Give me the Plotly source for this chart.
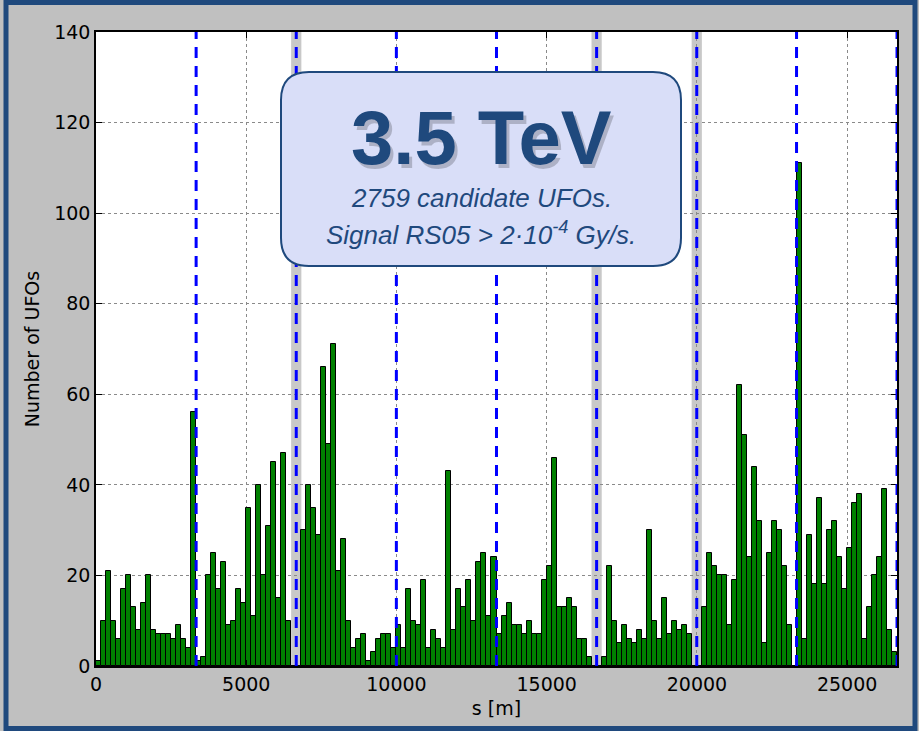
import numpy as np
import plotly.graph_objects as go

# ---------------- data ----------------
CIRCUMFERENCE = 26659.0          # LHC circumference [m]
N_BINS = 160

octant1 = [1, 10, 21, 10, 6, 17, 20, 13, 8, 14, 20, 8, 7, 7, 7, 6, 9, 6, 4, 56]
octant2 = [1, 2, 20, 25, 17, 23, 9, 10, 17, 14, 35, 11, 40, 20, 31, 45, 15, 47, 10, 0]
octant3 = [0, 30, 40, 35, 29, 66, 49, 71, 21, 28, 10, 4, 6, 7, 1, 3, 6, 7, 7, 4]
octant4 = [9, 4, 17, 10, 9, 19, 4, 8, 6, 4, 43, 8, 17, 13, 19, 10, 23, 25, 11, 24]
octant5 = [7, 11, 14, 9, 9, 7, 10, 7, 7, 19, 22, 46, 13, 13, 15, 13, 6, 6, 2, 0]
octant6 = [0, 2, 22, 10, 5, 9, 6, 5, 8, 6, 30, 10, 6, 15, 7, 10, 8, 9, 7, 0]
octant7 = [0, 13, 25, 22, 20, 20, 9, 19, 62, 51, 24, 44, 32, 5, 25, 32, 30, 22, 9, 0]
octant8 = [111, 6, 29, 18, 37, 18, 30, 32, 24, 17, 26, 36, 38, 6, 13, 20, 24, 39, 8, 3]
counts = octant1 + octant2 + octant3 + octant4 + octant5 + octant6 + octant7 + octant8

ip_positions = [3332.4, 6664.7, 9997.1, 13329.3, 16661.7, 19994.2, 23315.4, 26659.0]
excluded_ips = [6664.7, 16661.7, 19994.2]
band_halfwidth = 170.0

x_ticks = [0, 5000, 10000, 15000, 20000, 25000]
y_ticks = [0, 20, 40, 60, 80, 100, 120, 140]

title_text = "3.5 TeV"
sub_line1 = "2759 candidate UFOs."
sub_line2 = "Signal RS05 > 2·10<sup>-4</sup> Gy/s."

# ---------------- layout geometry (pixels) ----------------
W, H = 919, 731
PL, PR, PT, PB = 96, 897, 32, 666
pw, ph = PR - PL, PB - PT


def px(x):
    return (x - PL) / pw


def py(y):
    return (PB - y) / ph


edges = np.linspace(0, CIRCUMFERENCE, N_BINS + 1)
centers = 0.5 * (edges[:-1] + edges[1:])
bin_w = edges[1] - edges[0]

NAVY = "#1F497D"
fig = go.Figure()
fig.add_trace(go.Bar(
    x=centers, y=counts, width=bin_w,
    marker=dict(color="#008000", line=dict(color="black", width=1)),
    hoverinfo="x+y", showlegend=False,
))

shapes = []
# grey bands
for ip in excluded_ips:
    shapes.append(dict(type="rect", xref="x", yref="paper", x0=ip - band_halfwidth,
                       x1=ip + band_halfwidth, y0=0, y1=1, fillcolor="#c8c8c8",
                       line=dict(width=0), layer="below"))
# IP lines
for ip in ip_positions:
    shapes.append(dict(type="line", xref="x", yref="paper", x0=ip, x1=ip, y0=0, y1=1,
                       line=dict(color="#0000ff", width=3, dash="11px,8px"), layer="above"))

# rounded annotation box
L, R, T, B, r = px(281), px(681), py(72), py(266), 28
rx, ry = r / pw, r / ph
path = (f"M {L+rx},{T} L {R-rx},{T} Q {R},{T} {R},{T-ry} L {R},{B+ry} "
        f"Q {R},{B} {R-rx},{B} L {L+rx},{B} Q {L},{B} {L},{B+ry} L {L},{T-ry} "
        f"Q {L},{T} {L+rx},{T} Z")
shapes.append(dict(type="path", xref="paper", yref="paper", path=path,
                   fillcolor="#D9DEF8", line=dict(color=NAVY, width=2), layer="above"))

# outer slide border
shapes.append(dict(type="rect", xref="paper", yref="paper", x0=px(6), x1=px(915),
                   y0=py(728.5), y1=py(2.5), line=dict(color=NAVY, width=5),
                   fillcolor="rgba(0,0,0,0)", layer="above"))

annotations = [
    dict(text=title_text, x=px(481 + 3), y=py(138 + 3), xref="paper", yref="paper",
         showarrow=False, xanchor="center", yanchor="middle",
         font=dict(family="Liberation Sans", size=76, color="rgba(0,0,0,0.2)", weight="bold")),
    dict(text=title_text, x=px(481), y=py(138), xref="paper", yref="paper",
         showarrow=False, xanchor="center", yanchor="middle",
         font=dict(family="Liberation Sans", size=76, color=NAVY, weight="bold")),
    dict(text=f"<i>{sub_line1}</i>", x=px(481), y=py(198), xref="paper", yref="paper",
         showarrow=False, xanchor="center", yanchor="middle",
         font=dict(family="Liberation Sans", size=26, color=NAVY)),
    dict(text=f"<i>{sub_line2}</i>", x=px(481), y=py(233), xref="paper", yref="paper",
         showarrow=False, xanchor="center", yanchor="middle",
         font=dict(family="Liberation Sans", size=26, color=NAVY)),
]

axis_common = dict(
    showline=True, linecolor="black", linewidth=1.5, mirror="ticks",
    ticks="inside", ticklen=6, tickcolor="black", tickwidth=1,
    showgrid=True, gridcolor="#8a8a8a", griddash="dot", gridwidth=1,
    zeroline=False, tickfont=dict(family="DejaVu Sans", size=19, color="black"),
)

fig.update_layout(
    width=W, height=H,
    margin=dict(l=PL, r=W - PR, t=PT, b=H - PB, pad=0),
    paper_bgcolor="#c0c0c0", plot_bgcolor="white",
    bargap=0,
    shapes=shapes, annotations=annotations,
    xaxis=dict(range=[0, CIRCUMFERENCE], tickvals=x_ticks, tickformat="d",
               title=dict(text="s [m]", font=dict(family="DejaVu Sans", size=19, color="black"),
                          standoff=8),
               **axis_common),
    yaxis=dict(range=[0, 140], tickvals=y_ticks,
               title=dict(text="Number of UFOs", font=dict(family="DejaVu Sans", size=19, color="black"),
                          standoff=10),
               **axis_common),
    font=dict(family="DejaVu Sans"),
)

fig.write_html("out.html")
